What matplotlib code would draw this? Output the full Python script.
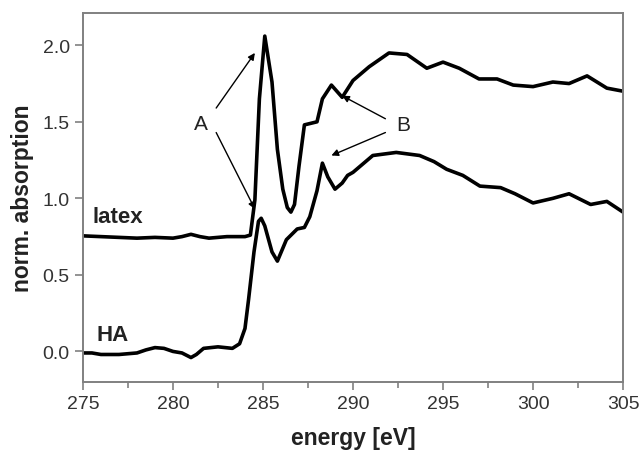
import matplotlib
matplotlib.use('Agg')
import matplotlib.pyplot as plt
from matplotlib.ticker import MultipleLocator

plt.rcParams['font.family'] = ['Liberation Sans', 'DejaVu Sans']

# latex spectrum
latex_e = [275, 276, 277, 278, 279, 280, 280.5, 281, 281.5, 282, 283, 284, 284.3,
           284.55, 284.8, 285.1, 285.5, 285.8, 286.1, 286.35, 286.55, 286.75, 287.0, 287.3,
           288.0, 288.3, 288.8, 289.4, 290.0, 290.9, 292.0, 293.0, 294.1, 295.0,
           295.9, 297.0, 298.0, 298.9, 300.0, 301.1, 302.0, 303.0, 304.1, 305.0]
latex_a = [0.755, 0.75, 0.745, 0.74, 0.745, 0.74, 0.75, 0.765, 0.75, 0.74, 0.75, 0.75, 0.76,
           0.99, 1.65, 2.06, 1.76, 1.32, 1.06, 0.94, 0.91, 0.96, 1.21, 1.48,
           1.50, 1.65, 1.74, 1.66, 1.77, 1.86, 1.95, 1.94, 1.85, 1.89,
           1.85, 1.78, 1.78, 1.74, 1.73, 1.76, 1.75, 1.80, 1.72, 1.70]

# HA spectrum
ha_e = [275, 275.5, 276, 277, 278, 278.5, 279, 279.5, 280, 280.5, 281, 281.3, 281.7,
        282.5, 283.3, 283.7, 284.0, 284.2, 284.5, 284.75, 284.9, 285.1, 285.5, 285.8,
        286.3, 286.9, 287.3, 287.6, 288.0, 288.3, 288.6, 289.0, 289.4, 289.7, 290.0,
        290.5, 291.1, 292.4, 293.7, 294.5, 295.2, 296.1, 297.05, 298.2, 299.0, 300.0,
        301.1, 302.0, 303.2, 304.1, 305.0]
ha_a = [-0.01, -0.01, -0.02, -0.02, -0.01, 0.01, 0.025, 0.02, 0.0, -0.01, -0.04, -0.02, 0.02,
        0.03, 0.02, 0.05, 0.15, 0.34, 0.65, 0.85, 0.87, 0.82, 0.65, 0.59,
        0.73, 0.80, 0.81, 0.88, 1.05, 1.23, 1.14, 1.06, 1.10, 1.15, 1.17,
        1.22, 1.28, 1.30, 1.28, 1.24, 1.19, 1.15, 1.08, 1.07, 1.03, 0.97,
        1.00, 1.03, 0.96, 0.98, 0.91]

fig = plt.figure(figsize=(6.43, 4.56), dpi=100)
ax = fig.add_axes([0.129, 0.160, 0.840, 0.809])

ax.plot(latex_e, latex_a, color='black', lw=2.6, solid_joinstyle='round')
ax.plot(ha_e, ha_a, color='black', lw=2.6, solid_joinstyle='round')

ax.set_xlim(275, 305)
ax.set_ylim(-0.2, 2.21)
ax.xaxis.set_major_locator(MultipleLocator(5))
ax.xaxis.set_minor_locator(MultipleLocator(2.5))
ax.yaxis.set_major_locator(MultipleLocator(0.5))
ax.yaxis.set_major_formatter(plt.FormatStrFormatter('%.1f'))

for s in ax.spines.values():
    s.set_color('#808080')
    s.set_linewidth(1.4)
ax.tick_params(which='both', direction='out', color='#808080', width=1.2,
               labelsize=14, labelcolor='#333333')
ax.tick_params(which='major', length=6)
ax.tick_params(which='minor', length=4)

ax.set_xlabel('energy [eV]', fontsize=16.5, fontweight='bold', labelpad=10, color='#222222')
ax.set_ylabel('norm. absorption', fontsize=16.5, fontweight='bold', labelpad=6, color='#222222')

ax.text(275.55, 0.88, 'latex', fontsize=16, fontweight='bold', va='center', color='#222222')
ax.text(275.75, 0.11, 'HA', fontsize=16, fontweight='bold', va='center', color='#222222')

arrow = dict(arrowstyle='-|>', color='black', lw=1.0, mutation_scale=10, shrinkA=0, shrinkB=0)
ax.text(281.55, 1.49, 'A', fontsize=15, ha='center', va='center', color='#222222')
ax.annotate('', xy=(284.55, 1.95), xytext=(282.4, 1.59), arrowprops=arrow)
ax.annotate('', xy=(284.55, 0.93), xytext=(282.4, 1.43), arrowprops=arrow)

ax.text(292.8, 1.48, 'B', fontsize=15, ha='center', va='center', color='#222222')
ax.annotate('', xy=(289.4, 1.67), xytext=(291.8, 1.52), arrowprops=arrow)
ax.annotate('', xy=(288.8, 1.28), xytext=(291.8, 1.43), arrowprops=arrow)

fig.savefig('out.png', dpi=100)
